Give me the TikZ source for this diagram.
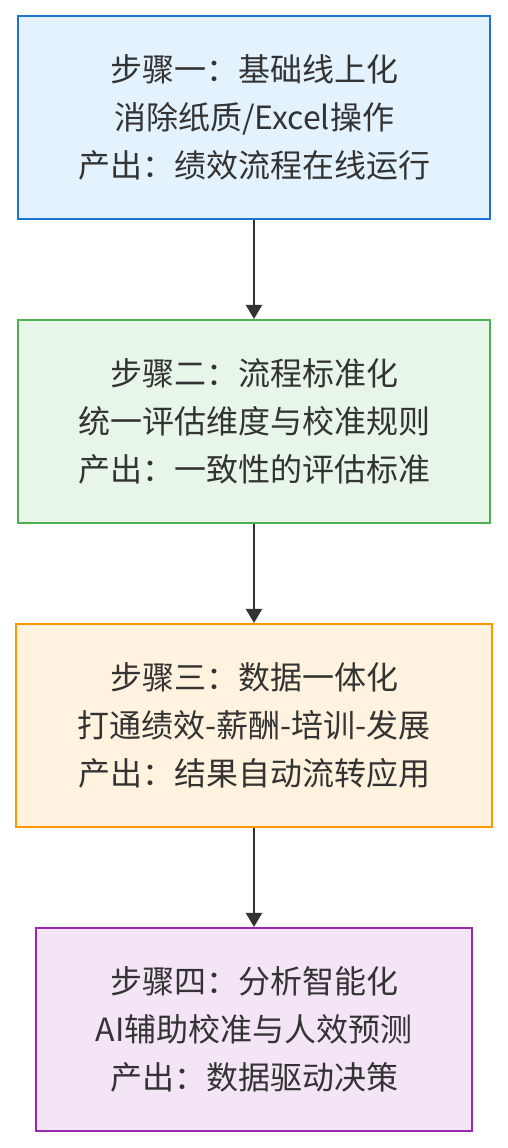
\documentclass[tikz,border=0pt]{standalone}
\usepackage{fontspec}
\setmainfont{Noto Sans CJK SC}
\usetikzlibrary{arrows.meta}
\definecolor{textgray}{HTML}{333333}
\definecolor{bluefill}{HTML}{E3F2FD}
\definecolor{blueline}{HTML}{1976D2}
\definecolor{greenfill}{HTML}{E8F5E9}
\definecolor{greenline}{HTML}{4CAF50}
\definecolor{orangefill}{HTML}{FFF3E0}
\definecolor{orangeline}{HTML}{FF9800}
\definecolor{purplefill}{HTML}{F3E5F5}
\definecolor{purpleline}{HTML}{9C27B0}
\tikzset{
    stepbox/.style={draw, line width=2pt, minimum height=203pt, align=center,
        text=textgray, inner sep=0pt,
        font=\fontsize{32}{48}\selectfont},
    flow/.style={draw=textgray, line width=2pt,
        -{Triangle[length=14pt, width=16pt]}}
}
\begin{document}
\begin{tikzpicture}[x=1pt, y=1pt]
    \useasboundingbox (0, 0) rectangle (507, 1148);
    \node[stepbox, fill=bluefill, draw=blueline, minimum width=472pt] (s1) at (254, 1030.5)
        {步骤一：基础线上化\\消除纸质/Excel操作\\产出：绩效流程在线运行};
    \node[stepbox, fill=greenfill, draw=greenline, minimum width=472pt] (s2) at (254, 726.5)
        {步骤二：流程标准化\\统一评估维度与校准规则\\产出：一致性的评估标准};
    \node[stepbox, fill=orangefill, draw=orangeline, minimum width=476pt] (s3) at (254, 422.5)
        {步骤三：数据一体化\\打通绩效-薪酬-培训-发展\\产出：结果自动流转应用};
    \node[stepbox, fill=purplefill, draw=purpleline, minimum width=436pt] (s4) at (254, 118.5)
        {步骤四：分析智能化\\AI辅助校准与人效预测\\产出：数据驱动决策};
    \draw[flow] (s1) -- (s2);
    \draw[flow] (s2) -- (s3);
    \draw[flow] (s3) -- (s4);
\end{tikzpicture}
\end{document}
